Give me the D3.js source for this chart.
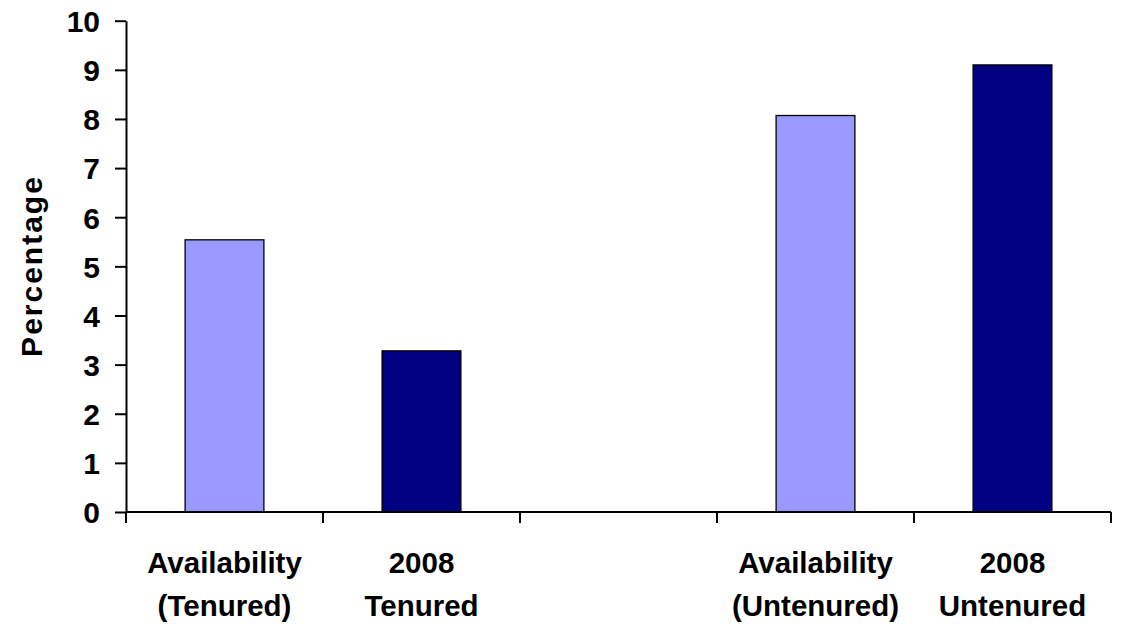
<!DOCTYPE html>
<html>
<head>
<meta charset="utf-8">
<script src="https://cdn.jsdelivr.net/npm/d3@7"></script>
<style>
  html, body { margin: 0; padding: 0; background: #fff; }
  svg { display: block; }
  text { font-family: "Liberation Sans", Arial, sans-serif; font-weight: bold; fill: #000; }
</style>
</head>
<body>
<svg id="chart" width="1123" height="626"></svg>
<script>
// Category slots along the x axis (the middle slot is an intentional gap)
const categories = ["availT", "2008T", "gap", "availU", "2008U"];
const categoryLabels = [
  ["Availability", "(Tenured)"],
  ["2008", "Tenured"],
  ["", ""],
  ["Availability", "(Untenured)"],
  ["2008", "Untenured"]
];
// Percentage for each slot (null = no bar)
const values = [5.54, 3.28, null, 8.07, 9.10];
const barColors = ["#9999FF", "#000080", null, "#9999FF", "#000080"];
const yTicks = [0, 1, 2, 3, 4, 5, 6, 7, 8, 9, 10];
const yTitle = "Percentage";

const svg = d3.select("#chart");
const plot = { left: 126, right: 1111, top: 20.7, bottom: 512 };

const x = d3.scaleBand().domain(categories).range([plot.left, plot.right]).padding(0);
const y = d3.scaleLinear().domain([0, 10]).range([plot.bottom, plot.top]);
const barW = x.bandwidth() * 0.4;

// Bars
svg.append("g").selectAll("rect")
  .data(categories.map((c, i) => ({ c, v: values[i], color: barColors[i] })).filter(d => d.v != null))
  .join("rect")
  .attr("x", d => x(d.c) + (x.bandwidth() - barW) / 2)
  .attr("y", d => y(d.v))
  .attr("width", barW)
  .attr("height", d => y(0) - y(d.v))
  .attr("fill", d => d.color)
  .attr("stroke", "#000")
  .attr("stroke-width", 1.3);

// Y axis
const yAxis = svg.append("g")
  .attr("transform", `translate(${plot.left},0)`)
  .call(d3.axisLeft(y).tickValues(yTicks).tickSize(11).tickPadding(15).tickSizeOuter(0));
yAxis.select(".domain").attr("stroke", "#000").attr("stroke-width", 2);
yAxis.selectAll(".tick line").attr("stroke", "#000").attr("stroke-width", 2);
yAxis.selectAll(".tick text")
  .style("font-family", "'Liberation Sans', Arial, sans-serif")
  .style("font-weight", "bold")
  .style("font-size", "30px")
  .attr("fill", "#000")
  .attr("dy", "0.36em");

// X axis line with slot-boundary ticks
const boundaries = categories.map(c => x(c)).concat([plot.right]);
svg.append("line")
  .attr("x1", plot.left).attr("x2", plot.right)
  .attr("y1", plot.bottom).attr("y2", plot.bottom)
  .attr("stroke", "#000").attr("stroke-width", 2);
svg.append("g").selectAll("line")
  .data(boundaries)
  .join("line")
  .attr("x1", d => d).attr("x2", d => d)
  .attr("y1", plot.bottom).attr("y2", plot.bottom + 11)
  .attr("stroke", "#000").attr("stroke-width", 2);

// Category labels (two lines each)
const labelG = svg.append("g");
categories.forEach((c, i) => {
  const cx = x(c) + x.bandwidth() / 2;
  categoryLabels[i].forEach((line, j) => {
    if (!line) return;
    labelG.append("text")
      .attr("x", cx)
      .attr("y", 573 + j * 43)
      .attr("text-anchor", "middle")
      .style("font-size", "29.5px")
      .text(line);
  });
});

// Y axis title
svg.append("text")
  .attr("transform", `translate(42,266) rotate(-90)`)
  .attr("text-anchor", "middle")
  .style("font-size", "30px")
  .style("letter-spacing", "2px")
  .text(yTitle);
</script>
</body>
</html>
